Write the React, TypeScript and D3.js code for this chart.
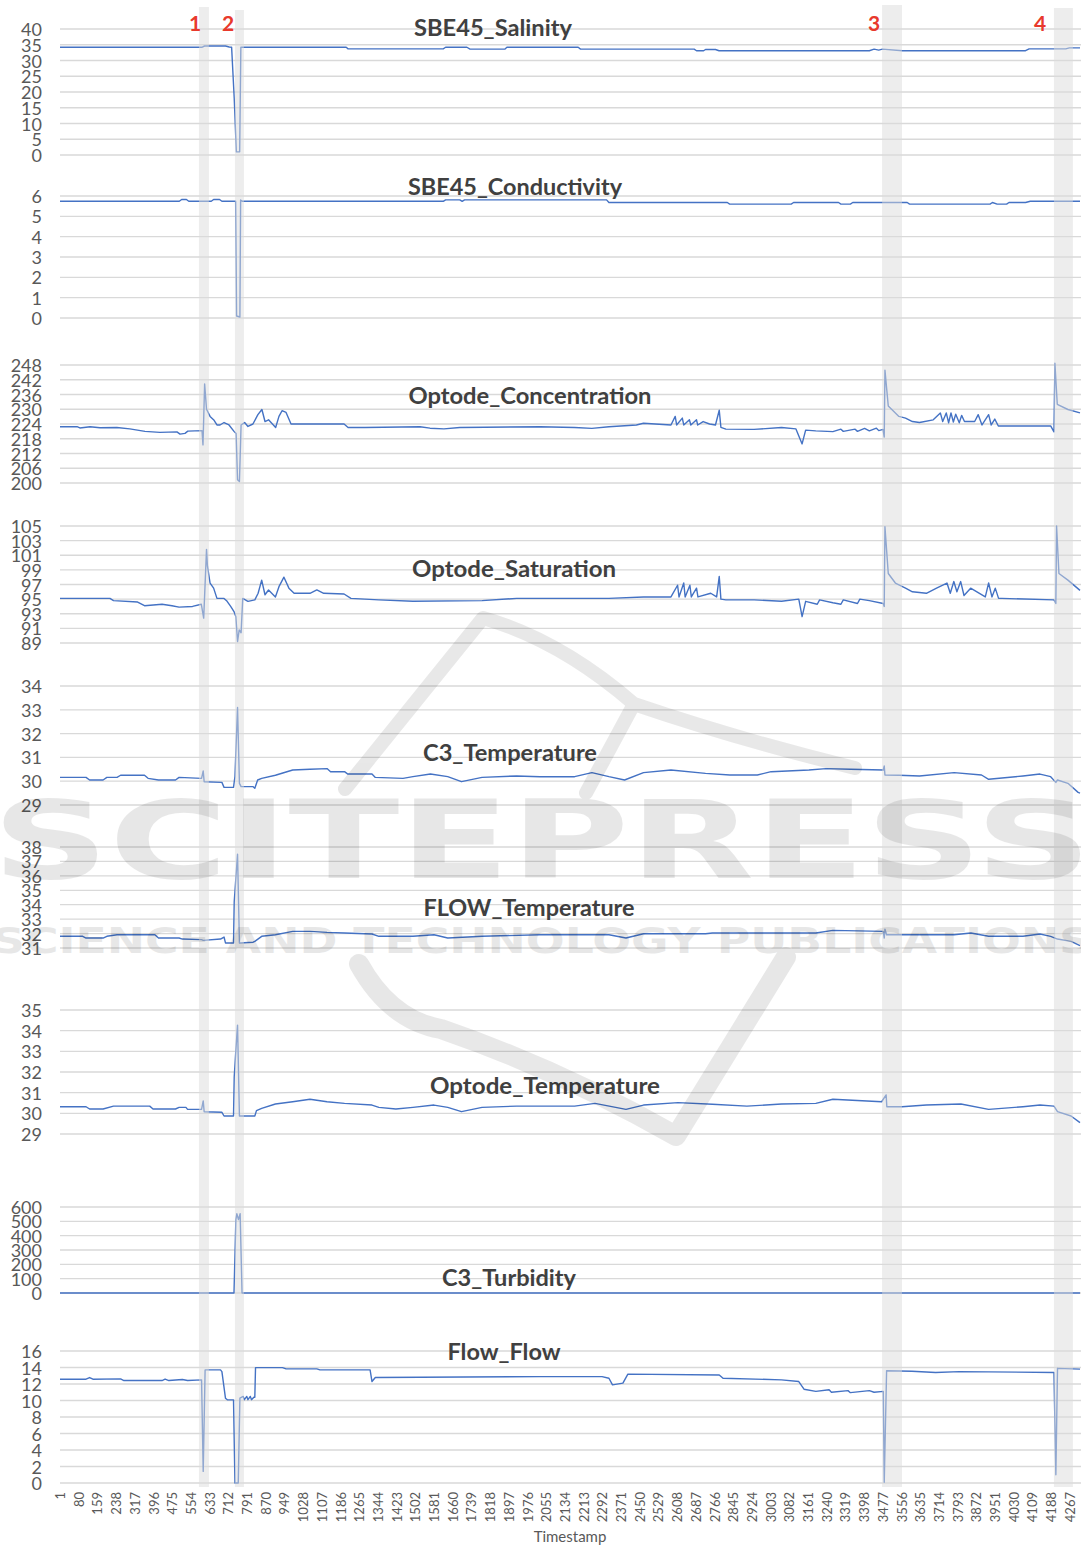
import React from "react";
import * as d3 from "d3";

type P = [number, number];

// ---------- tick labels ----------
const timestampTicks = [
  1, 80, 159, 238, 317, 396, 475, 554, 633, 712, 791, 870, 949, 1028, 1107, 1186, 1265, 1344, 1423,
  1502, 1581, 1660, 1739, 1818, 1897, 1976, 2055, 2134, 2213, 2292, 2371, 2450, 2529, 2608, 2687,
  2766, 2845, 2924, 3003, 3082, 3161, 3240, 3319, 3398, 3477, 3556, 3635, 3714, 3793, 3872, 3951,
  4030, 4109, 4188, 4267,
];
const salinityTicks = [0, 5, 10, 15, 20, 25, 30, 35, 40];
const conductivityTicks = [0, 1, 2, 3, 4, 5, 6];
const concentrationTicks = [200, 206, 212, 218, 224, 230, 236, 242, 248];
const saturationTicks = [89, 91, 93, 95, 97, 99, 101, 103, 105];
const c3TempTicks = [29, 30, 31, 32, 33, 34];
const flowTempTicks = [31, 32, 33, 34, 35, 36, 37, 38];
const optodeTempTicks = [29, 30, 31, 32, 33, 34, 35];
const turbidityTicks = [0, 100, 200, 300, 400, 500, 600];
const flowTicks = [0, 2, 4, 6, 8, 10, 12, 14, 16];

// ---------- series: [timestamp, value] ----------
const salinity: P[] = [
  [1, 34.2], [600, 34.2], [612, 34.6], [700, 34.6], [716, 34.3], [726, 34.2], [737, 18], [746, 1],
  [760, 1], [765, 34.2], [1210, 34.2], [1218, 33.7], [1620, 33.7], [1630, 34.2], [1720, 34.2],
  [1733, 33.6], [1880, 33.6], [1889, 34.2], [2190, 34.2], [2200, 33.6], [2680, 33.6], [2690, 33.1],
  [2720, 33.1], [2728, 33.5], [2770, 33.5], [2785, 33.1], [3420, 33.1], [3440, 33.6], [3460, 33.3],
  [3475, 33.6], [3560, 33.1], [4080, 33.1], [4095, 33.7], [4250, 33.7], [4265, 34.0], [4310, 34.0],
];
const conductivity: P[] = [
  [1, 5.74], [505, 5.74], [515, 5.83], [535, 5.83], [545, 5.74], [640, 5.74], [650, 5.83], [675, 5.83],
  [685, 5.74], [743, 5.74], [747, 0.1], [761, 0.05], [764, 5.8], [772, 5.74], [1620, 5.74],
  [1630, 5.81], [1690, 5.81], [1700, 5.74], [1710, 5.81], [2310, 5.81], [2320, 5.68], [2820, 5.68],
  [2830, 5.6], [3090, 5.6], [3100, 5.68], [3290, 5.68], [3300, 5.6], [3340, 5.6], [3350, 5.68],
  [3580, 5.68], [3590, 5.6], [3930, 5.6], [3940, 5.68], [3960, 5.6], [4000, 5.6], [4010, 5.68],
  [4080, 5.68], [4100, 5.74], [4310, 5.74],
];
const concentration: P[] = [
  [1, 222.9], [73, 222.9], [85, 222.4], [128, 222.9], [170, 222.5], [241, 222.6], [296, 222.0],
  [360, 221.0], [423, 220.6], [495, 220.8], [508, 219.9], [529, 220.2], [541, 221.1], [601, 221.3],
  [605, 215.5], [612, 240.3], [620, 230], [635, 227.1], [652, 225.5], [664, 223.6], [677, 223.6],
  [694, 224.6], [715, 223.6], [736, 221], [745, 220.1], [751, 201.3], [759, 200.6], [766, 223.6],
  [781, 224.6], [795, 223], [816, 224], [837, 227.8], [854, 229.9], [867, 225], [882, 225.7],
  [912, 222.6], [926, 227.1], [939, 229.4], [956, 228.7], [977, 224], [1201, 224], [1218, 222.6],
  [1289, 222.6], [1522, 222.9], [1564, 222.3], [1623, 222.0], [1690, 222.6], [2029, 222.9],
  [2175, 222.6], [2248, 222.2], [2320, 222.9], [2436, 223.6], [2466, 224.3], [2582, 223.6],
  [2600, 227.1], [2606, 223.6], [2630, 226.4], [2636, 223.6], [2660, 225.7], [2666, 223.6],
  [2690, 225.7], [2695, 223.6], [2718, 225], [2745, 224], [2770, 223.6], [2786, 229.6], [2793, 222.6],
  [2814, 221.9], [2933, 221.8], [3049, 222.6], [3110, 222.0], [3136, 215.9], [3151, 221.5],
  [3194, 221.2], [3266, 220.9], [3300, 221.9], [3310, 221.0], [3360, 221.9], [3370, 221.0],
  [3400, 222.2], [3420, 221.2], [3450, 222.3], [3460, 221.3], [3478, 221.8], [3483, 218.7],
  [3486, 245.9], [3500, 231.3], [3545, 227.1], [3573, 226.4], [3602, 225], [3632, 224.6],
  [3690, 225.7], [3720, 228.5], [3730, 225], [3745, 228.5], [3755, 224.5], [3765, 228.5],
  [3775, 224.8], [3785, 228], [3800, 224.5], [3810, 227.5], [3822, 225], [3865, 225], [3880, 227.8],
  [3896, 223.6], [3924, 227.8], [3935, 223.6], [3950, 226], [3965, 223.2], [4186, 223.2],
  [4200, 220.8], [4204, 248.7], [4214, 232], [4259, 229.9], [4310, 228.5],
];
const saturation: P[] = [
  [1, 95.1], [212, 95.1], [227, 94.8], [329, 94.6], [358, 94.1], [432, 94.3], [474, 94.1], [504, 93.9],
  [561, 94.0], [598, 94.3], [608, 92.4], [620, 101.8], [624, 99.5], [635, 97.2], [650, 96.5],
  [664, 95.1], [694, 95.1], [707, 94.7], [722, 94.0], [736, 93.3], [744, 92.6], [751, 89.2],
  [758, 90.8], [766, 90.4], [773, 95.1], [795, 94.7], [824, 94.9], [838, 95.8], [853, 97.6],
  [867, 95.6], [882, 96.25], [911, 95.3], [926, 96.7], [947, 98], [968, 96.5], [990, 95.8],
  [1057, 95.8], [1086, 96.25], [1115, 95.8], [1201, 95.7], [1230, 95.1], [1348, 94.9], [1492, 94.7],
  [1784, 94.8], [1930, 95.1], [2029, 95.1], [2320, 95.1], [2466, 95.3], [2582, 95.3], [2610, 96.9],
  [2616, 95.3], [2636, 97.2], [2642, 95.3], [2662, 96.9], [2668, 95.3], [2690, 96.5], [2696, 95.3],
  [2750, 95.8], [2775, 95.3], [2786, 98.1], [2793, 95.0], [2814, 94.9], [2933, 94.9], [3049, 94.7],
  [3122, 95.0], [3136, 92.6], [3151, 94.7], [3200, 94.3], [3210, 94.9], [3266, 94.5], [3300, 94.3],
  [3310, 94.9], [3370, 94.4], [3380, 95.0], [3420, 94.8], [3479, 94.4], [3483, 94.0], [3486, 104.9],
  [3500, 98.5], [3530, 97.2], [3573, 96.5], [3602, 96], [3661, 95.8], [3704, 96.5], [3748, 97.2],
  [3762, 95.8], [3777, 97.4], [3790, 96], [3806, 97.4], [3820, 95.5], [3848, 96.5], [3910, 95.3],
  [3924, 97.2], [3938, 95.3], [3952, 96.5], [3966, 95.1], [3980, 95.1], [4200, 94.9], [4208, 94.4],
  [4211, 105], [4221, 98.5], [4259, 97.6], [4310, 96.2],
];
const c3Temperature: P[] = [
  [1, 30.16], [111, 30.16], [126, 30.05], [183, 30.05], [199, 30.16], [242, 30.16], [257, 30.25],
  [358, 30.25], [373, 30.12], [417, 30.05], [489, 30.05], [504, 30.16], [599, 30.12], [606, 30.43],
  [610, 29.98], [685, 29.95], [694, 29.74], [734, 29.74], [740, 30.19], [751, 33.1], [759, 29.91],
  [766, 29.77], [817, 29.77], [824, 29.7], [836, 30.05], [853, 30.12], [911, 30.25], [984, 30.47],
  [1057, 30.5], [1129, 30.53], [1144, 30.4], [1203, 30.4], [1217, 30.3], [1319, 30.3], [1333, 30.16],
  [1450, 30.12], [1492, 30.19], [1566, 30.3], [1639, 30.19], [1697, 29.98], [1784, 30.16],
  [1930, 30.22], [2029, 30.19], [2175, 30.19], [2248, 30.36], [2320, 30.19], [2386, 30.05],
  [2466, 30.36], [2582, 30.47], [2728, 30.33], [2831, 30.26], [2947, 30.26], [3005, 30.4],
  [3165, 30.47], [3237, 30.53], [3340, 30.5], [3479, 30.47], [3483, 30.64], [3486, 30.26],
  [3545, 30.25], [3632, 30.22], [3778, 30.36], [3894, 30.26], [3924, 30.08], [4069, 30.22],
  [4141, 30.3], [4186, 30.19], [4208, 29.95], [4215, 30.05], [4259, 29.91], [4302, 29.53], [4310, 29.5],
];
const flowTemperature: P[] = [
  [1, 31.81], [97, 31.81], [111, 31.69], [183, 31.69], [199, 31.81], [242, 31.92], [402, 31.92],
  [417, 31.69], [504, 31.69], [518, 31.62], [599, 31.58], [606, 31.53], [679, 31.62], [694, 31.76],
  [700, 31.35], [734, 31.35], [737, 34.2], [751, 37.5], [759, 31.35], [817, 31.4], [824, 31.46],
  [853, 31.81], [911, 31.92], [984, 32.15], [1057, 32.15], [1129, 32.08], [1203, 32.04], [1319, 31.97],
  [1348, 31.81], [1492, 31.81], [1581, 31.92], [1639, 31.69], [1784, 31.81], [2029, 31.92],
  [2320, 31.92], [2392, 31.69], [2466, 31.99], [2728, 31.99], [2757, 32.04], [3194, 32.04],
  [3266, 32.22], [3479, 32.15], [3483, 31.69], [3486, 32.31], [3493, 31.92], [3778, 31.92],
  [3849, 32.04], [3924, 31.81], [4069, 31.81], [4141, 31.97], [4186, 31.81], [4215, 31.62],
  [4272, 31.46], [4310, 31.17],
];
const optodeTemperature: P[] = [
  [1, 30.32], [111, 30.32], [126, 30.21], [183, 30.21], [227, 30.35], [380, 30.35], [394, 30.21],
  [489, 30.21], [504, 30.29], [533, 30.29], [540, 30.19], [599, 30.19], [606, 30.6], [610, 30.08],
  [685, 30.05], [694, 29.87], [734, 29.87], [737, 31.77], [744, 33.06], [751, 34.27], [759, 29.87],
  [824, 29.87], [831, 30.13], [853, 30.24], [911, 30.45], [984, 30.56], [1057, 30.68], [1129, 30.56],
  [1203, 30.48], [1319, 30.4], [1348, 30.29], [1420, 30.21], [1492, 30.29], [1581, 30.4],
  [1639, 30.29], [1697, 30.08], [1784, 30.29], [1930, 30.35], [2029, 30.35], [2175, 30.35],
  [2261, 30.48], [2392, 30.19], [2466, 30.4], [2612, 30.52], [2757, 30.44], [2903, 30.35],
  [3049, 30.45], [3194, 30.48], [3266, 30.68], [3472, 30.56], [3491, 30.89], [3494, 30.32],
  [3558, 30.32], [3661, 30.4], [3807, 30.45], [3924, 30.19], [4069, 30.32], [4141, 30.4],
  [4200, 30.35], [4215, 30.08], [4272, 29.87], [4310, 29.55],
];
const turbidity: P[] = [
  [1, 0], [736, 0], [744, 512], [748, 553], [755, 512], [762, 553], [770, 0], [4310, 0],
];
const flow: P[] = [
  [1, 12.58], [111, 12.58], [126, 12.78], [140, 12.58], [257, 12.62], [271, 12.42], [432, 12.42],
  [445, 12.6], [461, 12.42], [518, 12.55], [540, 12.42], [599, 12.5], [606, 1.41], [614, 13.71],
  [679, 13.71], [685, 13.5], [700, 10.28], [708, 10.08], [734, 10.08], [740, 0], [754, 0],
  [761, 10.28], [775, 10.5], [780, 10.1], [790, 10.5], [795, 10.1], [805, 10.5], [810, 10.1],
  [820, 10.4], [824, 10.4], [827, 13.99], [941, 13.99], [956, 13.83], [1086, 13.83], [1099, 13.71],
  [1311, 13.71], [1319, 12.3], [1333, 12.78], [2029, 12.9], [2291, 12.9], [2320, 12.7],
  [2335, 11.9], [2379, 12.1], [2400, 13.2], [2786, 13.1], [2802, 12.7], [3049, 12.5], [3122, 12.3],
  [3144, 11.37], [3194, 11.1], [3250, 11.3], [3260, 11.0], [3330, 11.2], [3340, 10.95],
  [3420, 11.2], [3440, 11.0], [3479, 11.1], [3483, 0.1], [3493, 13.6], [3600, 13.55], [3700, 13.4],
  [3800, 13.5], [4200, 13.4], [4208, 1.0], [4215, 13.9], [4310, 13.8],
];

// event bands [start, end] in timestamps
const eventLabels = ["1", "2", "3", "4"];
const eventStarts = [588, 740, 3474, 4200];
const eventEnds = [630, 778, 3558, 4280];

// ---------- layout (positions & styles) ----------
const panels = [
  { title: "SBE45_Salinity", data: salinity, ticks: salinityTicks, top: 29, bottom: 155, tx: 493, ty: 27, tw: 158 },
  { title: "SBE45_Conductivity", data: conductivity, ticks: conductivityTicks, top: 196, bottom: 318, tx: 515, ty: 186, tw: 214 },
  { title: "Optode_Concentration", data: concentration, ticks: concentrationTicks, top: 365, bottom: 483, tx: 530, ty: 395, tw: 243 },
  { title: "Optode_Saturation", data: saturation, ticks: saturationTicks, top: 526, bottom: 643, tx: 514, ty: 568, tw: 204 },
  { title: "C3_Temperature", data: c3Temperature, ticks: c3TempTicks, top: 686, bottom: 805, tx: 510, ty: 752, tw: 174 },
  { title: "FLOW_Temperature", data: flowTemperature, ticks: flowTempTicks, top: 847, bottom: 948, tx: 529, ty: 907, tw: 211 },
  { title: "Optode_Temperature", data: optodeTemperature, ticks: optodeTempTicks, top: 1010, bottom: 1134, tx: 545, ty: 1085, tw: 230 },
  { title: "C3_Turbidity", data: turbidity, ticks: turbidityTicks, top: 1207, bottom: 1293, tx: 509, ty: 1277, tw: 134 },
  { title: "Flow_Flow", data: flow, ticks: flowTicks, top: 1351, bottom: 1483, tx: 504, ty: 1351, tw: 113 },
];
const bandTops = [7, 10, 5, 8];
const bandLabelX = [195, 228, 874, 1040];

const W = 1081;
const H = 1546;
const FONT = "Lato, 'Open Sans', 'DejaVu Sans', sans-serif";

export default function App() {
  const x = d3.scaleLinear().domain([1, 4310]).range([60, 1080]);

  return (
    <svg
      width={W}
      height={H}
      viewBox={`0 0 ${W} ${H}`}
      style={{ position: "absolute", left: 0, top: 0, display: "block", background: "#fff" }}
      fontFamily={FONT}
    >
      <rect x={0} y={0} width={W} height={H} fill="#ffffff" />

      {panels.map((p) => {
        const lo = p.ticks[0];
        const hi = p.ticks[p.ticks.length - 1];
        const y = d3.scaleLinear().domain([lo, hi]).range([p.bottom, p.top]);
        const line = d3
          .line<P>()
          .x((d) => x(d[0]))
          .y((d) => y(d[1]));
        return (
          <g key={p.title}>
            {p.ticks.map((t) => (
              <line key={"g" + t} x1={60} x2={W} y1={y(t)} y2={y(t)} stroke="#d9d9d9" strokeWidth={1.3} />
            ))}
            {p.ticks.map((t) => (
              <text
                key={"t" + t}
                x={42}
                y={y(t)}
                textAnchor="end"
                dominantBaseline="central"
                fontSize={18}
                fill="#595959"
              >
                {t}
              </text>
            ))}
            <path
              d={line(p.data) || ""}
              fill="none"
              stroke="#4472c4"
              strokeWidth={1.4}
              strokeLinejoin="round"
            />
            <text
              x={p.tx - p.tw / 2}
              y={p.ty}
              dominantBaseline="central"
              fontSize={23}
              fontWeight={700}
              fill="#404040"
              textLength={p.tw}
              lengthAdjust="spacingAndGlyphs"
            >
              {p.title}
            </text>
          </g>
        );
      })}

      {/* event bands */}
      {eventLabels.map((lab, i) => (
        <g key={"band" + lab}>
          <rect
            x={x(eventStarts[i])}
            y={bandTops[i]}
            width={x(eventEnds[i]) - x(eventStarts[i])}
            height={1487 - bandTops[i]}
            fill="#dcdcdc"
            opacity={0.5}
          />
          <text
            x={bandLabelX[i]}
            y={31}
            textAnchor="middle"
            fontSize={21}
            fontWeight={700}
            fill="#e8392c"
          >
            {lab}
          </text>
        </g>
      ))}

      {/* x axis labels */}
      {timestampTicks.map((t) => (
        <text
          key={"x" + t}
          transform={`translate(${x(t)},1492) rotate(-90)`}
          textAnchor="end"
          dominantBaseline="central"
          fontSize={13}
          fill="#595959"
        >
          {t}
        </text>
      ))}
      <text x={570} y={1536} textAnchor="middle" dominantBaseline="central" fontSize={15} fill="#595959">
        Timestamp
      </text>

      {/* publisher watermark */}
      <g opacity={0.09} pointerEvents="none">
        <path
          d="M345,789 L483,618 Q560,640 634,704 Q740,740 855,768 M634,704 L586,793"
          fill="none"
          stroke="#000"
          strokeWidth={14}
          strokeLinejoin="round"
          strokeLinecap="round"
        />
        <path
          d="M359,964 Q390,1020 441,1029 Q560,1070 676,1136 L786,957"
          fill="none"
          stroke="#000"
          strokeWidth={20}
          strokeLinejoin="round"
          strokeLinecap="round"
        />
        <text
          x={-8}
          y={878}
          fontSize={108}
          fontWeight={900}
          fontFamily="'DejaVu Sans', sans-serif"
          textLength={1100}
          lengthAdjust="spacingAndGlyphs"
          fill="#000"
        >
          SCITEPRESS
        </text>
        <text
          x={-8}
          y={953}
          fontSize={36}
          fontWeight={700}
          fontFamily="'DejaVu Sans', sans-serif"
          textLength={1100}
          lengthAdjust="spacingAndGlyphs"
          fill="#000"
        >
          SCIENCE AND TECHNOLOGY PUBLICATIONS
        </text>
      </g>
    </svg>
  );
}
